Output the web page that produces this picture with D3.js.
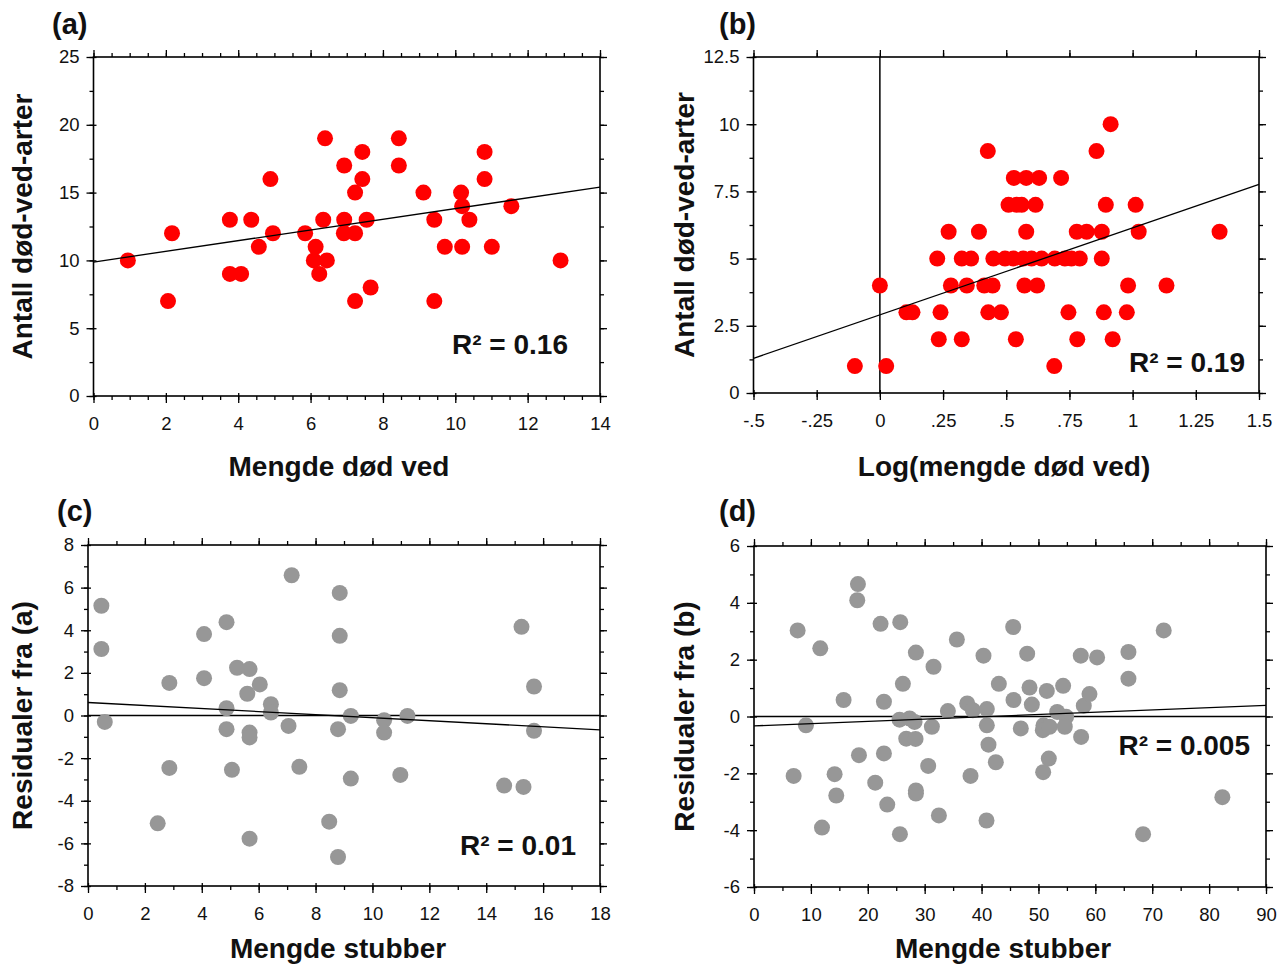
<!DOCTYPE html>
<html>
<head>
<meta charset="utf-8">
<script src="https://cdn.jsdelivr.net/npm/d3@7"></script>
<style>
  body { margin: 0; background: #fff; }
  svg { display: block; font-family: "Liberation Sans", Arial, sans-serif; }
</style>
</head>
<body>
<svg id="chart" width="1285" height="966"></svg>
<script>
// (a) species count vs dead wood
const aX = [0.95, 2.17, 2.06, 3.77, 3.77, 4.08, 4.36, 4.57, 4.89, 4.96, 5.85, 6.14, 6.09, 6.45, 6.24, 6.35, 6.40,
  6.93, 6.93, 6.92, 7.23, 7.23, 7.23, 7.43, 7.43, 7.55, 7.66, 8.44, 8.44, 9.12, 9.42, 9.42, 9.71, 10.16, 10.19,
  10.19, 10.39, 10.81, 10.81, 11.01, 11.55, 12.91];
const aY = [10, 12, 7, 13, 9, 9, 13, 11, 16, 12, 12, 11, 10, 10, 9, 13, 19,
  17, 13, 12, 15, 12, 7, 18, 16, 13, 8, 19, 17, 15, 13, 7, 11, 15, 14,
  11, 13, 18, 16, 11, 14, 10];
const aFit = [9.88, 15.4]; // y at x = 0 and x = 14

// (b) species count vs log(dead wood)
const bX = [0.913, 0.427, 0.857, 0.530, 0.579, 0.630, 0.717, 0.509, 0.541, 0.561, 0.616, 0.894, 1.012,
  0.272, 0.392, 0.579, 0.779, 0.818, 0.878, 1.024, 1.344,
  0.227, 0.324, 0.361, 0.449, 0.495, 0.528, 0.567, 0.600, 0.640, 0.692, 0.732, 0.758, 0.791, 0.878,
  0.0, 0.281, 0.344, 0.413, 0.446, 0.572, 0.622, 0.982, 1.134,
  0.105, 0.129, 0.240, 0.429, 0.479, 0.746, 0.886, 0.977,
  0.233, 0.324, 0.538, 0.781, 0.921,
  -0.099, 0.025, 0.690];
const bY = [10, 9, 9, 8, 8, 8, 8, 7, 7, 7, 7, 7, 7,
  6, 6, 6, 6, 6, 6, 6, 6,
  5, 5, 5, 5, 5, 5, 5, 5, 5, 5, 5, 5, 5, 5,
  4, 4, 4, 4, 4, 4, 4, 4, 4,
  3, 3, 3, 3, 3, 3, 3, 3,
  2, 2, 2, 2, 2,
  1, 1, 1];
const bFit = [1.29, 7.76]; // y at x = -0.5 and x = 1.5

// (c) residuals from (a) vs stumps
const cX = [0.47, 0.47, 0.59, 2.45, 2.86, 2.86, 4.08, 4.08, 4.87, 4.87, 4.87, 5.06, 5.24, 5.68, 5.60, 5.68,
  5.68, 5.68, 6.04, 6.43, 6.43, 7.05, 7.16, 7.43, 8.48, 8.85, 8.85, 8.85, 8.79, 8.79, 9.24, 9.24, 10.41,
  10.41, 10.98, 11.23, 14.63, 15.24, 15.31, 15.68, 15.68];
const cY = [5.15, 3.12, -0.30, -5.06, 1.53, -2.46, 3.82, 1.75, 4.38, 0.34, -0.64, -2.55, 2.24, 2.18, 1.02, -0.80,
  -1.03, -5.78, 1.46, 0.53, 0.14, -0.49, 6.58, -2.41, -4.98, 5.75, 3.74, 1.19, -0.64, -6.64, -0.02, -2.96, -0.22,
  -0.80, -2.79, -0.02, -3.29, 4.16, -3.35, 1.36, -0.72];
const cFit = [0.61, -0.67]; // y at x = 0 and x = 18

// (d) residuals from (b) vs stumps
const dX = [7.67, 6.97, 9.13, 11.65, 11.95, 14.17, 14.46, 15.75, 18.27, 18.15, 18.45, 21.31, 22.25, 22.84,
  22.84, 23.42, 25.71, 26.17, 25.59, 25.65, 26.76, 27.35, 28.22, 28.46, 28.40, 28.46, 28.46, 30.62, 31.27,
  31.56, 32.50, 34.08, 35.66, 37.48, 38.47, 38.06, 40.34, 40.93, 40.93, 41.22, 40.87, 42.51, 43.04, 45.56,
  45.62, 46.90, 48.02, 48.43, 48.84, 50.89, 50.77, 50.83, 51.82, 51.47, 51.94, 53.29, 54.34, 54.87, 54.63,
  57.44, 57.50, 57.97, 58.97, 60.31, 65.82, 65.82, 68.39, 72.02, 82.33];
const dY = [3.03, -2.09, -0.31, 2.40, -3.91, -2.03, -2.78, 0.58, 4.66, 4.09, -1.36, -2.33, 3.26, 0.52,
  -1.30, -3.10, 3.32, 1.15, -0.11, -4.14, -0.78, -0.07, -0.19, 2.25, -0.79, -2.60, -2.71, -1.74, -0.36,
  1.75, -3.48, 0.19, 2.71, 0.46, 0.22, -2.09, 2.14, 0.26, -0.31, -0.99, -3.66, -1.61, 1.15, 3.15,
  0.58, -0.42, 2.21, 1.02, 0.42, -0.31, -0.48, -1.96, -1.48, 0.90, -0.36, 0.16, 1.08, -0.01, -0.36,
  2.14, -0.72, 0.38, 0.79, 2.08, 2.27, 1.33, -4.14, 3.03, -2.84];
const dFit = [-0.33, 0.39]; // y at x = 0 and x = 90

// tick values and labels
const aXTicks = [0, 2, 4, 6, 8, 10, 12, 14];
const aYTicks = [0, 5, 10, 15, 20, 25];
const bXTicks = [-0.5, -0.25, 0, 0.25, 0.5, 0.75, 1, 1.25, 1.5];
const bXLabels = ["-.5", "-.25", "0", ".25", ".5", ".75", "1", "1.25", "1.5"];
const bYTicks = [0, 2.5, 5, 7.5, 10, 12.5];
const cXTicks = [0, 2, 4, 6, 8, 10, 12, 14, 16, 18];
const cYTicks = [-8, -6, -4, -2, 0, 2, 4, 6, 8];
const dXTicks = [0, 10, 20, 30, 40, 50, 60, 70, 80, 90];
const dYTicks = [-6, -4, -2, 0, 2, 4, 6];

const svg = d3.select("#chart");

function drawPanel(p) {
  const x = d3.scaleLinear().domain(p.xDomain).range([p.left, p.right]);
  const y = d3.scaleLinear().domain(p.yDomain).range([p.bottom, p.top]);
  const g = svg.append("g");
  const xMinor = d3.range(p.xDomain[0], p.xDomain[1] + 1e-9, p.xMinorStep);
  const yMinor = d3.range(p.yDomain[0], p.yDomain[1] + 1e-9, p.yMinorStep);

  // minor ticks, all four sides, pointing outward
  g.append("g").attr("transform", `translate(0,${p.bottom})`)
    .call(d3.axisBottom(x).tickValues(xMinor).tickSize(4).tickFormat(""));
  g.append("g").attr("transform", `translate(0,${p.top})`)
    .call(d3.axisTop(x).tickValues(xMinor).tickSize(4).tickFormat(""));
  g.append("g").attr("transform", `translate(${p.left},0)`)
    .call(d3.axisLeft(y).tickValues(yMinor).tickSize(4).tickFormat(""));
  g.append("g").attr("transform", `translate(${p.right},0)`)
    .call(d3.axisRight(y).tickValues(yMinor).tickSize(4).tickFormat(""));

  // major ticks crossing the frame a little
  g.append("g").attr("transform", `translate(0,${p.bottom})`)
    .call(d3.axisBottom(x).tickValues(p.xTicks).tickSize(-3).tickFormat(""));
  g.append("g").attr("transform", `translate(0,${p.top})`)
    .call(d3.axisTop(x).tickValues(p.xTicks).tickSize(7).tickFormat(""));
  g.append("g").attr("transform", `translate(${p.left},0)`)
    .call(d3.axisLeft(y).tickValues(p.yTicks).tickSize(-3).tickFormat(""));
  g.append("g").attr("transform", `translate(${p.right},0)`)
    .call(d3.axisRight(y).tickValues(p.yTicks).tickSize(7).tickFormat(""));

  // labelled axes
  g.append("g").attr("class", "lab").attr("transform", `translate(0,${p.bottom})`)
    .call(d3.axisBottom(x).tickValues(p.xTicks).tickSize(7).tickPadding(14)
      .tickFormat((d, i) => p.xLabels ? p.xLabels[i] : d));
  g.append("g").attr("class", "lab").attr("transform", `translate(${p.left},0)`)
    .call(d3.axisLeft(y).tickValues(p.yTicks).tickSize(7).tickPadding(7)
      .tickFormat(d => String(d)));

  g.selectAll(".domain").remove();
  g.selectAll(".tick line").attr("stroke", "#000").attr("stroke-width", 1.3);
  g.selectAll(".lab text").attr("fill", "#111").style("font-size", "18.5px")
    .style("font-family", "'Liberation Sans', Arial, sans-serif");

  // frame
  g.append("rect")
    .attr("x", p.left).attr("y", p.top)
    .attr("width", p.right - p.left).attr("height", p.bottom - p.top)
    .attr("fill", "none").attr("stroke", "#000").attr("stroke-width", 1.6);

  // zero reference line
  if (p.zeroV) {
    g.append("line").attr("x1", x(0)).attr("x2", x(0)).attr("y1", p.top).attr("y2", p.bottom)
      .attr("stroke", "#000").attr("stroke-width", 1.5);
  }
  if (p.zeroH) {
    g.append("line").attr("x1", p.left).attr("x2", p.right).attr("y1", y(0)).attr("y2", y(0))
      .attr("stroke", "#000").attr("stroke-width", 1.6);
  }

  // points
  g.append("g").selectAll("circle")
    .data(p.xs.map((v, i) => [v, p.ys[i]]))
    .join("circle")
    .attr("cx", d => x(d[0]))
    .attr("cy", d => y(d[1]))
    .attr("r", 8)
    .attr("fill", p.color);

  // regression line
  g.append("line")
    .attr("x1", x(p.xDomain[0])).attr("y1", y(p.fit[0]))
    .attr("x2", x(p.xDomain[1])).attr("y2", y(p.fit[1]))
    .attr("stroke", "#000").attr("stroke-width", 1.3);

  // texts
  g.append("text").attr("x", p.tagX).attr("y", p.tagY)
    .attr("font-size", 29).attr("font-weight", "bold").attr("fill", "#111").text(p.tag);
  g.append("text").attr("x", p.xTitleX).attr("y", p.xTitleY)
    .attr("text-anchor", "middle").attr("font-size", 28).attr("font-weight", "bold")
    .attr("fill", "#111").text(p.xTitle);
  g.append("text")
    .attr("transform", `translate(${p.yTitleX},${(p.top + p.bottom) / 2}) rotate(-90)`)
    .attr("text-anchor", "middle").attr("dominant-baseline", "central")
    .attr("font-size", 28).attr("font-weight", "bold").attr("fill", "#111").text(p.yTitle);
  g.append("text").attr("x", p.r2X).attr("y", p.r2Y)
    .attr("text-anchor", "end").attr("dominant-baseline", "central")
    .attr("font-size", 28).attr("font-weight", "bold").attr("fill", "#111").text(p.r2);
}

drawPanel({
  xDomain: [0, 14], yDomain: [0, 25], left: 93.5, right: 600, top: 57, bottom: 396,
  xTicks: aXTicks, yTicks: aYTicks, xMinorStep: 0.5, yMinorStep: 2.5,
  xs: aX, ys: aY, fit: aFit, color: "#ff0000",
  tag: "(a)", tagX: 52, tagY: 34, xTitle: "Mengde død ved", xTitleX: 339, xTitleY: 476,
  yTitle: "Antall død-ved-arter", yTitleX: 22, r2: "R² = 0.16", r2X: 568, r2Y: 344
});
drawPanel({
  xDomain: [-0.5, 1.5], yDomain: [0, 12.5], left: 753.5, right: 1259, top: 57, bottom: 393,
  xTicks: bXTicks, xLabels: bXLabels, yTicks: bYTicks, xMinorStep: 0.25, yMinorStep: 1.25,
  xs: bX, ys: bY, fit: bFit, color: "#ff0000", zeroV: true,
  tag: "(b)", tagX: 719, tagY: 34, xTitle: "Log(mengde død ved)", xTitleX: 1004, xTitleY: 476,
  yTitle: "Antall død-ved-arter", yTitleX: 684, r2: "R² = 0.19", r2X: 1245, r2Y: 362
});
drawPanel({
  xDomain: [0, 18], yDomain: [-8, 8], left: 88, right: 600, top: 545, bottom: 886,
  xTicks: cXTicks, yTicks: cYTicks, xMinorStep: 1, yMinorStep: 1,
  xs: cX, ys: cY, fit: cFit, color: "#979797", zeroH: true,
  tag: "(c)", tagX: 57, tagY: 521, xTitle: "Mengde stubber", xTitleX: 338, xTitleY: 958,
  yTitle: "Residualer fra (a)", yTitleX: 22, r2: "R² = 0.01", r2X: 576, r2Y: 845
});
drawPanel({
  xDomain: [0, 90], yDomain: [-6, 6], left: 754, right: 1266, top: 546, bottom: 887,
  xTicks: dXTicks, yTicks: dYTicks, xMinorStep: 5, yMinorStep: 1,
  xs: dX, ys: dY, fit: dFit, color: "#979797", zeroH: true,
  tag: "(d)", tagX: 719, tagY: 521, xTitle: "Mengde stubber", xTitleX: 1003, xTitleY: 958,
  yTitle: "Residualer fra (b)", yTitleX: 684, r2: "R² = 0.005", r2X: 1250, r2Y: 745
});
</script>
</body>
</html>
